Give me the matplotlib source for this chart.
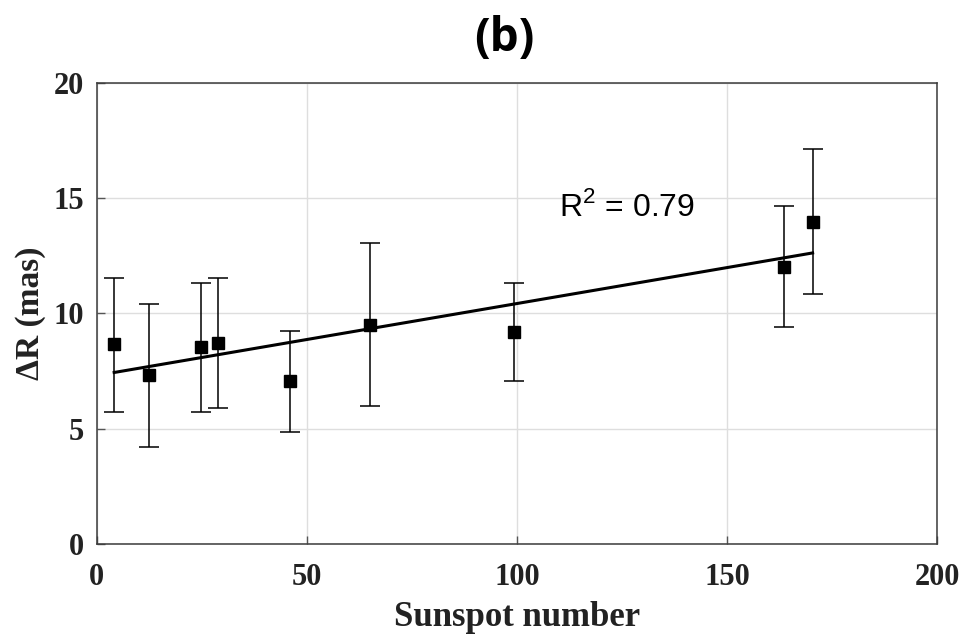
import numpy as np
import matplotlib.pyplot as plt

plt.rcParams['mathtext.fontset'] = 'custom'
plt.rcParams['mathtext.rm'] = 'Liberation Sans'

# sunspot number vs. Delta R with uncertainty bounds
ssn = [4.2, 12.6, 24.8, 28.8, 45.9, 65.1, 99.4, 163.4, 170.3]
dR = [8.66, 7.32, 8.54, 8.71, 7.06, 9.51, 9.21, 12.0, 13.96]
dR_top = [11.52, 10.43, 11.33, 11.52, 9.26, 13.06, 11.34, 14.65, 17.14]
dR_bot = [5.71, 4.19, 5.71, 5.90, 4.86, 5.99, 7.07, 9.41, 10.85]
r2_text = 'R$^2$ = 0.79'

x = np.array(ssn)
y = np.array(dR)
err = [y - np.array(dR_bot), np.array(dR_top) - y]

fig = plt.figure(figsize=(9.65, 6.36), dpi=100)
ax = fig.add_axes([0.1, 0.1447, 0.8715, 0.7248])

ax.grid(True, color='#dedede', lw=1.0)
ax.set_axisbelow(True)

ax.errorbar(x, y, yerr=err, fmt='s', color='black', ms=8, mec='black',
            ecolor='black', elinewidth=1.1, capsize=7, capthick=1.1, zorder=3)

# linear fit
p = np.polyfit(x, y, 1)
xf = np.array([x.min(), x.max()])
ax.plot(xf, np.polyval(p, xf), color='black', lw=2.2, zorder=4)

ax.text(110.0, 14.25, r2_text, fontsize=23, family='Liberation Sans')

ax.set_xlim(0, 200)
ax.set_ylim(0, 20)
ax.set_xticks([0, 50, 100, 150, 200])
ax.set_yticks([0, 5, 10, 15, 20])
ax.tick_params(direction='in', length=6, color='#555555', width=1,
               labelsize=22)
ax.tick_params(axis='x', pad=14)
ax.tick_params(axis='y', pad=9)
for lab in ax.get_xticklabels() + ax.get_yticklabels():
    lab.set_family('Liberation Serif')
    lab.set_fontweight('bold')
    lab.set_color('#222222')
for s in ax.spines.values():
    s.set_color('#3a3a3a')
    s.set_linewidth(1.1)

ax.set_xlabel('Sunspot number', fontsize=25, family='Liberation Serif',
              fontweight='bold', color='#222222', labelpad=6)
ax.set_ylabel('\u0394R (mas)', fontsize=24, family='Liberation Serif',
              fontweight='bold', color='#222222', labelpad=5)

fig.text(0.523, 0.94, '(b)', ha='center', va='center', fontsize=33,
         family='Open Sans', fontweight='bold')

fig.savefig('out.png', dpi=100)
